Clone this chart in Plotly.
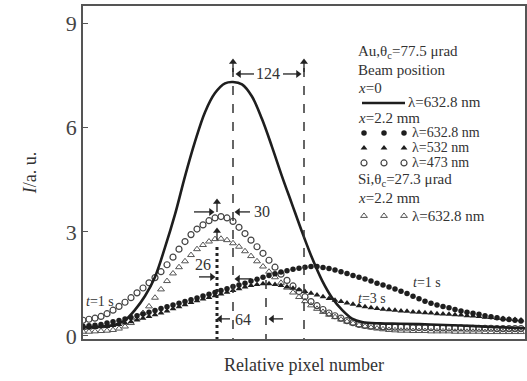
import plotly.graph_objects as go

# ---------------- data ----------------
# marker series sampled on a common pixel grid (relative pixel number)
x_markers = list(range(0, 439, 6))

au_632_x22 = [0.28,0.29,0.31,0.33,0.37,0.41,0.44,0.49,0.53,0.58,
              0.63,0.68,0.73,0.79,0.84,0.89,0.94,0.99,1.04,1.09,
              1.15,1.20,1.25,1.31,1.36,1.42,1.47,1.52,1.58,1.63,
              1.69,1.74,1.79,1.84,1.88,1.92,1.95,1.98,2.00,2.00,
              1.97,1.94,1.90,1.85,1.80,1.74,1.69,1.64,1.58,1.52,
              1.47,1.41,1.35,1.29,1.22,1.14,1.07,1.00,0.94,0.89,
              0.85,0.81,0.76,0.72,0.68,0.65,0.62,0.58,0.55,0.52,
              0.49,0.47,0.45,0.43]

au_532_x22 = [0.22,0.23,0.24,0.26,0.27,0.30,0.33,0.37,0.41,0.46,
              0.51,0.56,0.61,0.66,0.72,0.78,0.84,0.90,0.96,1.01,
              1.06,1.11,1.16,1.21,1.26,1.31,1.36,1.41,1.45,1.48,
              1.50,1.50,1.48,1.45,1.41,1.37,1.33,1.28,1.23,1.18,
              1.13,1.08,1.03,0.99,0.95,0.91,0.87,0.84,0.81,0.79,
              0.77,0.75,0.74,0.72,0.71,0.69,0.68,0.67,0.66,0.64,
              0.63,0.62,0.61,0.60,0.58,0.57,0.56,0.54,0.53,0.51,
              0.50,0.49,0.47,0.46]

au_473_x22 = [0.45,0.48,0.51,0.56,0.64,0.74,0.85,0.97,1.10,1.24,
              1.38,1.53,1.68,1.85,2.05,2.27,2.50,2.72,2.92,3.08,
              3.20,3.32,3.40,3.44,3.40,3.30,3.13,2.95,2.76,2.57,
              2.38,2.18,1.98,1.78,1.60,1.44,1.28,1.13,0.99,0.87,
              0.76,0.66,0.58,0.51,0.44,0.38,0.33,0.30,0.28,0.27,
              0.26,0.26,0.25,0.25,0.25,0.24,0.24,0.24,0.24,0.23,
              0.23,0.23,0.23,0.23,0.22,0.22,0.22,0.22,0.22,0.21,
              0.21,0.21,0.21,0.21]

si_632_x22 = [0.12,0.12,0.13,0.14,0.15,0.17,0.21,0.27,0.37,0.50,
              0.66,0.85,1.10,1.34,1.58,1.80,1.98,2.15,2.33,2.50,
              2.62,2.72,2.79,2.80,2.76,2.67,2.57,2.44,2.30,2.15,
              2.00,1.85,1.69,1.53,1.39,1.25,1.12,1.00,0.88,0.78,
              0.69,0.61,0.54,0.47,0.41,0.36,0.31,0.27,0.24,0.21,
              0.19,0.17,0.16,0.15,0.15,0.14,0.14,0.14,0.13,0.13,
              0.13,0.13,0.12,0.12,0.12,0.12,0.12,0.11,0.11,0.11,
              0.11,0.11,0.11,0.11]

# solid curve: Au, x=0, 632.8 nm
x_solid = [0, 17, 32, 42, 52, 62, 72, 82, 92, 102, 112, 122, 132, 142, 150,
           159, 169, 179, 189, 199, 209, 219, 229, 239, 249, 259, 269, 279,
           297, 317, 347, 377, 407, 442]
au_632_x0 = [0.25, 0.27, 0.32, 0.45, 0.75, 1.15, 1.70, 2.55, 3.50, 4.60, 5.60,
             6.45, 7.00, 7.28, 7.32, 7.25, 6.90, 6.25, 5.45, 4.60, 3.80, 3.00,
             2.25, 1.60, 1.10, 0.75, 0.50, 0.40, 0.36, 0.35, 0.33, 0.30, 0.26,
             0.22]

y_ticks = [0, 3, 6, 9]

# ---------------- helpers (screen px -> data) ----------------
def X(sx):
    return sx - 83

def Y(sy):
    return (336 - sy) / 34.7

INK = "#1e1e1e"
TXT = "#333333"
SERIF = "Liberation Serif, Times New Roman, serif"

MK_FC = dict(symbol="circle", size=5.5, color=INK)
MK_FT = dict(symbol="triangle-up", size=6, color=INK)
MK_OC = dict(symbol="circle-open", size=6, color="#444444", line=dict(width=1.2, color="#444444"))
MK_OT = dict(symbol="triangle-up-open", size=6, color="#555555", line=dict(width=1, color="#555555"))

fig = go.Figure()

fig.add_trace(go.Scatter(x=x_markers, y=si_632_x22, mode="markers", marker=MK_OT, showlegend=False))
fig.add_trace(go.Scatter(x=x_markers, y=au_473_x22, mode="markers", marker=MK_OC, showlegend=False))
fig.add_trace(go.Scatter(x=x_markers, y=au_532_x22, mode="markers", marker=MK_FT, showlegend=False))
fig.add_trace(go.Scatter(x=x_markers, y=au_632_x22, mode="markers", marker=MK_FC, showlegend=False))
fig.add_trace(go.Scatter(x=x_solid, y=au_632_x0, mode="lines",
                         line=dict(color=INK, width=2.6, shape="spline", smoothing=1.0),
                         showlegend=False))

# legend sample symbols (key only)
key_x = [X(364), X(384), X(404)]
for sy, mk in [(133, MK_FC), (148, MK_FT), (163, MK_OC), (216, MK_OT)]:
    fig.add_trace(go.Scatter(x=key_x, y=[Y(sy)] * 3, mode="markers", marker=mk,
                             showlegend=False, hoverinfo="skip"))

ymin = -0.09
shapes = [
    dict(type="line", xref="x", yref="y", x0=X(233), x1=X(233), y0=Y(68), y1=ymin,
         line=dict(color="#333", width=1.5, dash="dash")),
    dict(type="line", xref="x", yref="y", x0=X(304), x1=X(304), y0=Y(68), y1=ymin,
         line=dict(color="#333", width=1.5, dash="dash")),
    dict(type="line", xref="x", yref="y", x0=X(217), x1=X(217), y0=Y(247), y1=ymin,
         line=dict(color="#222", width=3, dash="dot")),
    dict(type="line", xref="x", yref="y", x0=X(266), x1=X(266), y0=Y(280), y1=ymin,
         line=dict(color="#333", width=1.5, dash="dash")),
    # legend line sample
    dict(type="line", xref="x", yref="y", x0=X(362), x1=X(405), y0=Y(103), y1=Y(103),
         line=dict(color=INK, width=2.5)),
]

# arrows: shaft as shape, head as a marker
heads = {"triangle-left": ([], []), "triangle-right": ([], []), "triangle-up": ([], [])}

def arrow(tx, ty, fx, fy):
    if abs(fx - tx) > abs(fy - ty):
        sym = "triangle-right" if tx > fx else "triangle-left"
        hx = tx - 3 if tx > fx else tx + 3
        hy = ty
    else:
        sym = "triangle-up"
        hx, hy = tx, ty + 3
    shapes.append(dict(type="line", xref="x", yref="y", x0=X(fx), y0=Y(fy), x1=X(hx), y1=Y(hy),
                       line=dict(color="#222", width=1.3)))
    heads[sym][0].append(X(hx))
    heads[sym][1].append(Y(hy))

ann = []

def text(sx, sy, s, size=15, anchor="left"):
    ann.append(dict(x=X(sx), y=Y(sy), xref="x", yref="y", text=s, showarrow=False,
                    xanchor=anchor, yanchor="middle",
                    font=dict(family=SERIF, size=size, color=TXT)))

# dimension labels
text(268, 74, "124", 16, "center")
arrow(236, 74, 254, 74)
arrow(301, 74, 283, 74)
arrow(233, 59, 233, 72)
arrow(304, 59, 304, 72)

text(262, 212, "30", 16, "center")
arrow(214, 212, 194, 212)
arrow(235, 212, 250, 212)
arrow(217, 199, 217, 212)
arrow(217, 228, 217, 240)

text(203, 265, "26", 16, "center")
arrow(215, 277, 199, 277)
arrow(235, 279, 251, 279)

text(243, 320, "64", 16, "center")
arrow(217, 319, 230, 319)
arrow(269, 319, 283, 319)

for sym, (hx, hy) in heads.items():
    fig.add_trace(go.Scatter(x=hx, y=hy, mode="markers",
                             marker=dict(symbol=sym, size=7, color="#222"),
                             showlegend=False, hoverinfo="skip"))

# time labels
text(84, 302, "<i>t</i>=1 s", 14)
text(411, 283, "<i>t</i>=1 s", 14)
text(356, 299, "<i>t</i>=3 s", 14)

# legend block
LS = 15
LS2 = 14
text(356, 52, "Au,θ<sub>c</sub>=77.5 μrad", LS)
text(356, 70, "Beam position", LS)
text(356, 88, "<i>x</i>=0", LS)
text(406, 102, "λ=632.8 nm", LS)
text(356, 118, "<i>x</i>=2.2 mm", LS)
text(410, 133, "λ=632.8 nm", LS2)
text(410, 148, "λ=532 nm", LS2)
text(410, 163, "λ=473 nm", LS2)
text(356, 180, "Si,θ<sub>c</sub>=27.3 μrad", LS)
text(356, 198, "<i>x</i>=2.2 mm", LS)
text(410, 216, "λ=632.8 nm", LS)

fig.update_layout(
    width=527, height=381,
    margin=dict(l=83, r=2, t=6, b=42),
    paper_bgcolor="white", plot_bgcolor="white",
    template="none",
    shapes=shapes, annotations=ann,
    font=dict(family=SERIF, color=TXT),
    xaxis=dict(range=[0, 442], showgrid=False, zeroline=False, showticklabels=False,
               ticks="", showline=True, mirror=True, linecolor="#555", linewidth=1.5,
               automargin=False,
               title=dict(text="Relative pixel number", standoff=19,
                          font=dict(family=SERIF, size=18, color=TXT))),
    yaxis=dict(range=[ymin, 9.51], tickvals=y_ticks, ticktext=[str(v) for v in y_ticks],
               showgrid=False, zeroline=False, ticks="inside", ticklen=5, tickwidth=1.2,
               tickcolor="#555", showline=True, mirror=True, linecolor="#555", linewidth=1.5,
               automargin=False,
               tickfont=dict(family=SERIF, size=22, color="#444"),
               title=dict(text="<i>I</i>/a. u.", standoff=25,
                          font=dict(family=SERIF, size=18, color=TXT))),
)

fig.write_html("out.html")
